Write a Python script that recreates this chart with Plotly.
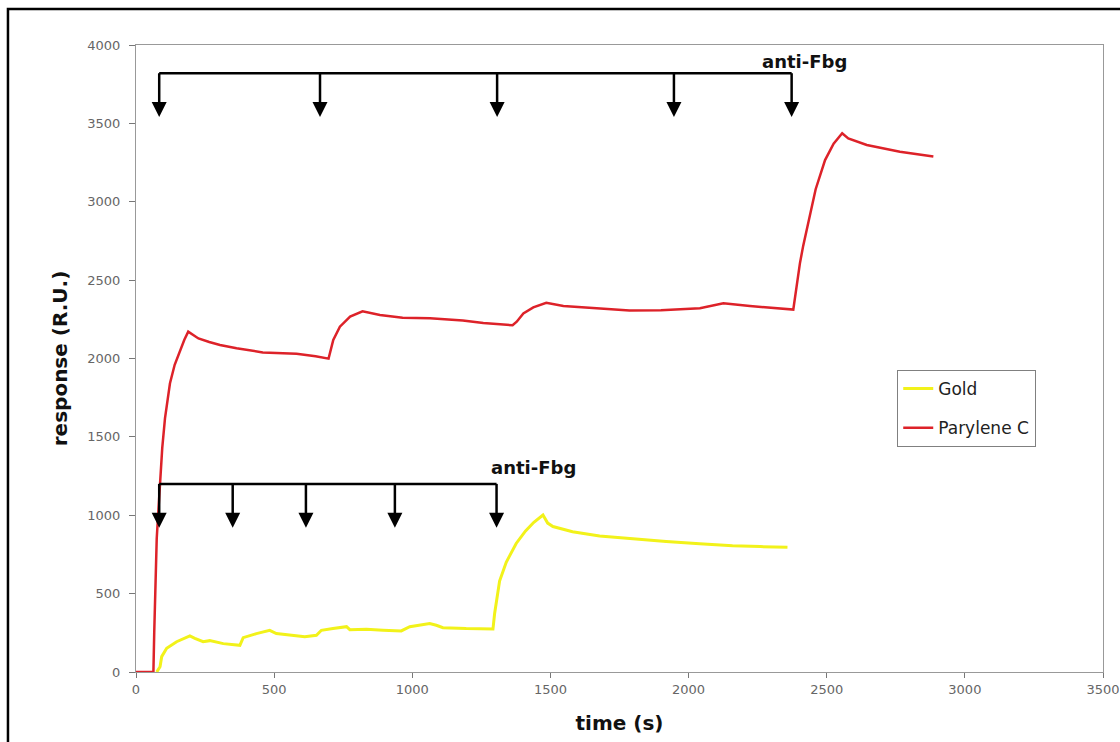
import plotly.graph_objects as go

# ---- data ----
red_t = [0, 63, 66, 70, 75, 80, 88, 95, 105, 117,
         123, 140, 159, 175, 189, 205, 226, 265, 304, 364,
         459, 581, 650, 697, 714, 738, 775, 820, 883, 965,
         1064, 1183, 1257, 1363, 1378, 1402, 1438, 1485, 1547, 1667,
         1786, 1900, 1960, 2041, 2126, 2222, 2379, 2390, 2403, 2415,
         2427, 2440, 2460, 2494, 2525, 2556, 2578, 2645, 2765, 2886]
red_v = [0, 0, 250, 600, 850, 1000, 1250, 1430, 1620, 1760,
         1842, 1960, 2054, 2120, 2171, 2150, 2128, 2105, 2086, 2065,
         2039, 2031, 2015, 1999, 2118, 2203, 2267, 2301, 2278, 2260,
         2256, 2243, 2226, 2212, 2235, 2288, 2326, 2355, 2335, 2320,
         2307, 2308, 2312, 2320, 2352, 2335, 2312, 2450, 2607, 2720,
         2822, 2930, 3080, 3266, 3370, 3437, 3404, 3362, 3319, 3288]

gold_t = [75, 87, 93, 111, 147, 195, 213, 243, 267, 316,
          376, 388, 436, 484, 508, 569, 611, 653, 671, 713,
          762, 774, 834, 894, 960, 991, 1063, 1087, 1111, 1195,
          1292, 1298, 1316, 1340, 1376, 1410, 1440, 1473, 1490, 1509,
          1580, 1678, 1800, 1919, 2040, 2159, 2260, 2358]
gold_v = [0, 34, 98, 151, 193, 230, 215, 193, 200, 181,
          170, 219, 245, 266, 245, 234, 225, 234, 266, 277,
          289, 270, 272, 266, 262, 289, 309, 298, 283, 277,
          274, 373, 580, 700, 820, 900, 955, 1001, 950, 928,
          895, 868, 848, 832, 818, 805, 800, 796]

# injection markers (anti-Fbg)
top_inject_t = [84, 666, 1307, 1947, 2373]
top_bracket_y = 3820
top_tip_y = 3540
bottom_inject_t = [84, 350, 615, 937, 1305]
bottom_bracket_y = 1200
bottom_tip_y = 920
label_text = "anti-Fbg"
top_label_pos = (2418, 3895)
bottom_label_pos = (1437, 1305)

x_ticks = [0, 500, 1000, 1500, 2000, 2500, 3000, 3500]
y_ticks = [0, 500, 1000, 1500, 2000, 2500, 3000, 3500, 4000]

FONT = "DejaVu Sans"

fig = go.Figure()

fig.add_trace(go.Scatter(x=gold_t, y=gold_v, mode="lines", name="Gold",
                         line=dict(color="#f2f21a", width=3), legendgroup="g1"))
fig.add_trace(go.Scatter(x=red_t, y=red_v, mode="lines", name="Parylene C",
                         line=dict(color="#dd2229", width=2.5), legendgroup="g2"))


def bracket(times, ybar, ytip):
    xs, ys = [times[0], times[-1], None], [ybar, ybar, None]
    for t in times:
        xs += [t, t, None]
        ys += [ybar, ytip + 60, None]
    fig.add_trace(go.Scatter(x=xs, y=ys, mode="lines", showlegend=False,
                             line=dict(color="black", width=2.5), hoverinfo="skip"))
    fig.add_trace(go.Scatter(x=times, y=[ytip] * len(times), mode="markers", showlegend=False,
                             marker=dict(symbol="arrow-down", size=15, color="black",
                                         line=dict(width=0)), hoverinfo="skip"))


bracket(top_inject_t, top_bracket_y, top_tip_y)
bracket(bottom_inject_t, bottom_bracket_y, bottom_tip_y)

for (lx, ly) in [top_label_pos, bottom_label_pos]:
    fig.add_annotation(x=lx, y=ly, text=f"<b>{label_text}</b>", showarrow=False,
                       font=dict(family=FONT, size=18, color="#111"),
                       xanchor="center", yanchor="middle")

# outer black frame
fig.add_shape(type="rect", xref="paper", yref="paper",
              x0=-0.1324, x1=1.03, y0=-0.2, y1=1.0574,
              line=dict(color="black", width=2.5), fillcolor="rgba(0,0,0,0)")

fig.update_layout(
    width=1120, height=742,
    margin=dict(l=136, r=17, t=45, b=70, autoexpand=False),
    paper_bgcolor="white", plot_bgcolor="white",
    font=dict(family=FONT),
    showlegend=True,
    legend=dict(x=0.787, y=0.482, xanchor="left", yanchor="top",
                bordercolor="#808080", borderwidth=1.2, bgcolor="white",
                font=dict(family=FONT, size=17, color="#222"),
                traceorder="grouped", tracegroupgap=14),
    xaxis=dict(range=[0, 3500], tickvals=x_ticks, ticks="outside", ticklen=5,
               tickcolor="#777", showline=True, linecolor="#999", linewidth=1,
               mirror=True, showgrid=False, zeroline=False, automargin=False,
               tickfont=dict(family=FONT, size=13, color="#666"),
               title=dict(text="<b>time (s)</b>", font=dict(family=FONT, size=20, color="#111"),
                          standoff=20)),
    yaxis=dict(range=[0, 4000], tickvals=y_ticks, ticks="outside", ticklen=6,
               tickcolor="#777", showline=True, linecolor="#999", linewidth=1,
               mirror=True, showgrid=False, zeroline=False, automargin=False,
               tickfont=dict(family=FONT, size=13, color="#666"),
               ticklabelstandoff=6,
               title=dict(text="<b>response (R.U.)</b>", font=dict(family=FONT, size=20, color="#111"),
                          standoff=14)),
)

fig.write_html("out.html")
